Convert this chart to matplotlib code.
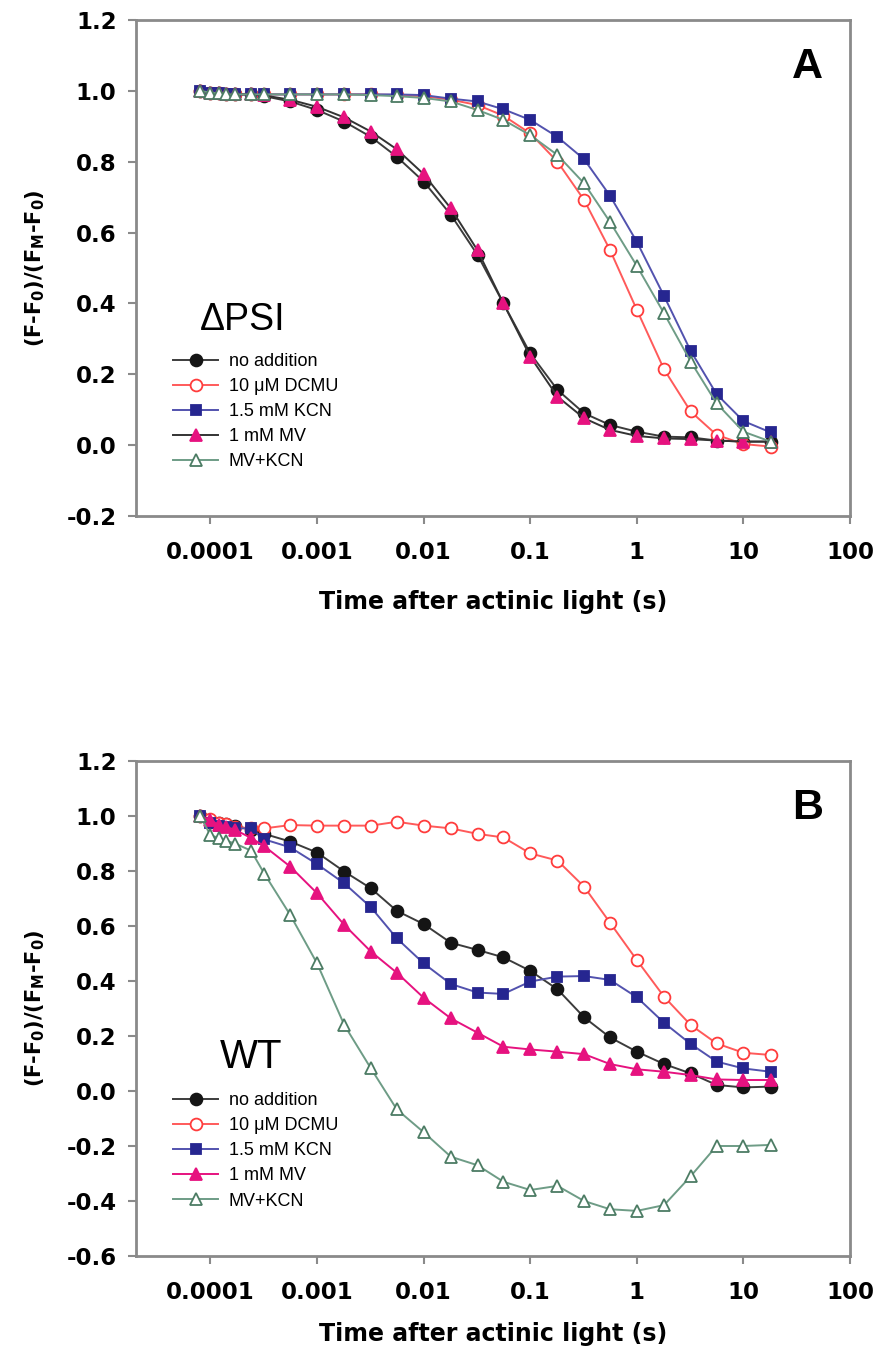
import numpy as np
import matplotlib
matplotlib.use('Agg')
import matplotlib.pyplot as plt

plt.rcParams['font.family'] = ['Liberation Sans', 'DejaVu Sans']
plt.rcParams['mathtext.fontset'] = 'custom'
plt.rcParams['mathtext.rm'] = 'DejaVu Sans'
plt.rcParams['mathtext.bf'] = 'DejaVu Sans:bold'

# time points (s), same for every trace
times = [8e-5, 1e-4, 1.2e-4, 1.4e-4, 1.7e-4, 2.4e-4, 3.2e-4, 5.6e-4, 1e-3, 1.8e-3,
         3.2e-3, 5.6e-3, 1e-2, 1.8e-2, 3.2e-2, 5.6e-2, 0.1, 0.18, 0.32, 0.56,
         1.0, 1.8, 3.2, 5.6, 10, 18]

labels = ['no addition', '10 \u03bcM DCMU', '1.5 mM KCN', '1 mM MV', 'MV+KCN']

# panel A - delta PSI
a_none = [1.0, 0.995, 0.993, 0.99, 0.99, 0.99, 0.985, 0.97, 0.946, 0.913, 0.87, 0.814, 0.744,
          0.65, 0.537, 0.40, 0.259, 0.156, 0.09, 0.057, 0.038, 0.024, 0.022, 0.013, 0.01, 0.01]
a_dcmu = [1.0, 0.995, 0.993, 0.99, 0.99, 0.99, 0.99, 0.99, 0.99, 0.99, 0.99, 0.988, 0.985,
          0.975, 0.96, 0.93, 0.88, 0.80, 0.692, 0.551, 0.382, 0.214, 0.095, 0.029, 0.003, -0.004]
a_kcn = [1.0, 0.995, 0.993, 0.99, 0.99, 0.99, 0.99, 0.99, 0.99, 0.99, 0.99, 0.99, 0.988,
         0.978, 0.97, 0.948, 0.918, 0.87, 0.807, 0.704, 0.574, 0.421, 0.266, 0.144, 0.068, 0.036]
a_mv = [1.0, 0.995, 0.993, 0.99, 0.99, 0.99, 0.987, 0.975, 0.955, 0.925, 0.885, 0.835, 0.765,
        0.668, 0.55, 0.40, 0.25, 0.137, 0.076, 0.043, 0.026, 0.019, 0.017, 0.013, 0.01, 0.01]
a_mvkcn = [1.0, 0.995, 0.993, 0.99, 0.99, 0.99, 0.99, 0.99, 0.99, 0.99, 0.988, 0.985, 0.98,
           0.97, 0.946, 0.918, 0.875, 0.819, 0.739, 0.63, 0.506, 0.372, 0.236, 0.118, 0.038, 0.01]

# panel B - WT
b_none = [1.0, 0.98, 0.975, 0.97, 0.965, 0.95, 0.935, 0.907, 0.867, 0.798, 0.737, 0.655, 0.607,
          0.539, 0.513, 0.486, 0.437, 0.37, 0.268, 0.195, 0.143, 0.098, 0.064, 0.022, 0.013, 0.016]
b_dcmu = [1.0, 0.99, 0.975, 0.97, 0.96, 0.955, 0.955, 0.967, 0.965, 0.965, 0.965, 0.979, 0.965,
          0.955, 0.935, 0.922, 0.864, 0.838, 0.743, 0.612, 0.476, 0.343, 0.24, 0.173, 0.139, 0.131]
b_kcn = [1.0, 0.975, 0.965, 0.96, 0.955, 0.955, 0.915, 0.886, 0.825, 0.755, 0.668, 0.555, 0.464,
         0.389, 0.358, 0.353, 0.398, 0.416, 0.418, 0.404, 0.341, 0.248, 0.171, 0.107, 0.082, 0.07]
b_mv = [1.0, 0.985, 0.967, 0.96, 0.95, 0.92, 0.89, 0.816, 0.719, 0.604, 0.507, 0.43, 0.339,
        0.264, 0.212, 0.161, 0.151, 0.143, 0.134, 0.098, 0.079, 0.07, 0.058, 0.042, 0.04, 0.04]
b_mvkcn = [1.0, 0.93, 0.92, 0.91, 0.90, 0.874, 0.79, 0.64, 0.464, 0.24, 0.082, -0.067, -0.15,
           -0.239, -0.27, -0.33, -0.36, -0.345, -0.40, -0.43, -0.436, -0.415, -0.31, -0.2, -0.2, -0.196]

xticks = [1e-4, 1e-3, 1e-2, 1e-1, 1, 10, 100]
xticklabels = ['0.0001', '0.001', '0.01', '0.1', '1', '10', '100']

# marker/line styles for the five traces
styles = [
    dict(marker='o', ms=8.5, mfc='#151515', mec='#151515', color='#3c3c3c'),
    dict(marker='o', ms=8.5, mfc='white', mec='#ff3c3c', color='#ff5a5a'),
    dict(marker='s', ms=7.5, mfc='#262690', mec='#262690', color='#5252ae'),
    dict(marker='^', ms=8.5, mfc='#e6127f', mec='#e6127f', color='#e6127f'),
    dict(marker='^', ms=8.5, mfc='white', mec='#4c7c64', color='#6e9c86'),
]

W, H = 874, 1355
fig = plt.figure(figsize=(W / 100, H / 100), dpi=100)
axA = fig.add_axes([136 / W, 1 - 516 / H, 714 / W, 496 / H])
axB = fig.add_axes([136 / W, 1 - 1256 / H, 714 / W, 495 / H])

panels = [
    (axA, [a_none, a_dcmu, a_kcn, a_mv, a_mvkcn], (-0.2, 1.2), 'A'),
    (axB, [b_none, b_dcmu, b_kcn, b_mv, b_mvkcn], (-0.6, 1.2), 'B'),
]

bold = dict(family='DejaVu Sans', fontweight='bold')

for ax, series, ylim, letter in panels:
    for i, (vals, st, lab) in enumerate(zip(series, styles, labels)):
        st = dict(st)
        if ax is axA and i == 3:
            st['color'] = '#333333'  # MV line is dark in panel A
        ax.plot(times, vals, lw=1.4, mew=1.3, label=lab, **st)

    ax.set_xscale('log')
    ax.set_xlim(2e-5, 100)
    ax.set_ylim(*ylim)
    ax.set_xticks(xticks)
    ax.set_xticklabels(xticklabels)
    ax.xaxis.set_minor_locator(matplotlib.ticker.NullLocator())
    ax.set_yticks(np.arange(ylim[0], 1.21, 0.2))
    ax.yaxis.set_major_formatter(matplotlib.ticker.FormatStrFormatter('%.1f'))

    for sp in ax.spines.values():
        sp.set_color('#8a8a8a')
        sp.set_linewidth(2)
    ax.tick_params(axis='both', direction='out', length=6, width=1.5, color='#8a8a8a')
    ax.tick_params(axis='x', labelsize=16.5, pad=12)
    ax.tick_params(axis='y', labelsize=16.5, pad=8)
    for t in ax.get_xticklabels() + ax.get_yticklabels():
        t.set_fontfamily('DejaVu Sans')
        t.set_fontweight('bold')

    ax.set_xlabel('Time after actinic light (s)', fontsize=17, **bold)
    ax.set_ylabel(r'(F-F$_\mathbf{0}$)/(F$_\mathbf{M}$-F$_\mathbf{0}$)', fontsize=15, **bold)
    ax.yaxis.set_label_coords(-0.125, 0.5)

    ax.text(0.94, 0.905, letter, transform=ax.transAxes, fontsize=31, fontweight='bold',
            ha='center', va='center')

axA.xaxis.set_label_coords(0.5, -0.15)
axB.xaxis.set_label_coords(0.5, -0.133)

axA.text(200, H - 320, '\u0394PSI', transform=None, fontsize=27, ha='left', va='center')
axB.text(220, H - 1057, 'WT', transform=None, fontsize=29, ha='left', va='center')

for ax, top in [(axA, 353), (axB, 1092)]:
    ax.legend(loc='upper left', bbox_to_anchor=(173 / W, 1 - top / H), bbox_transform=fig.transFigure,
              frameon=False, fontsize=13, borderpad=0, borderaxespad=0, handlelength=2.5,
              handletextpad=0.6, labelspacing=0.45)

fig.savefig('out.png', dpi=100)
